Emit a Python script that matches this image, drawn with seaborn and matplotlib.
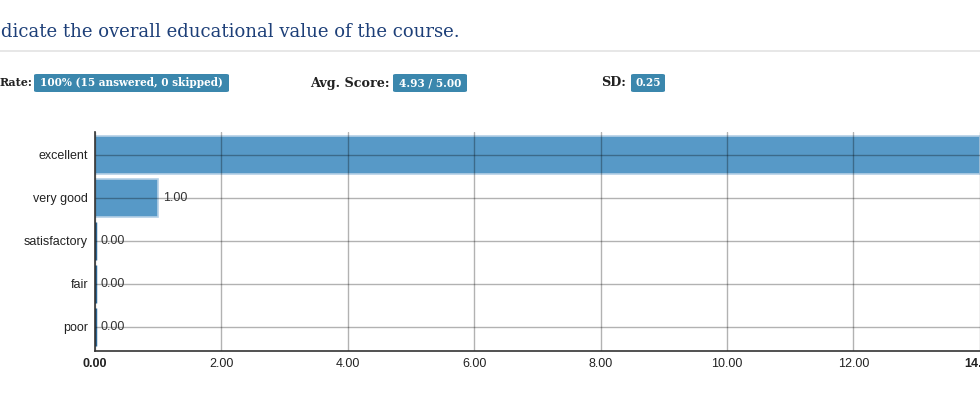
import matplotlib
matplotlib.use("Agg")
import pandas as pd
import seaborn as sns
import matplotlib.pyplot as plt
from matplotlib.patches import FancyBboxPatch

# data (the page is cut off at both sides)
ratings = ["excellent", "very good", "satisfactory", "fair", "poor"]
counts = [14, 1, 0, 0, 0]
x_ticks = [0, 2, 4, 6, 8, 10, 12, 14]

question = "dicate the overall educational value of the course."
rate_label = "Rate:"
rate_value = "100% (15 answered, 0 skipped)"
score_label = "Avg. Score:"
score_value = "4.93 / 5.00"
sd_label = "SD:"
sd_value = "0.25"

sns.set_style("white")
plt.rcParams["font.family"] = ["Liberation Sans", "DejaVu Sans"]

W, H = 980, 415
fig = plt.figure(figsize=(W / 100, H / 100), dpi=100)


def fx(px):
    return px / W


def fy(py):
    return 1 - py / H


# header
fig.text(fx(1), fy(32), question, ha="left", va="center",
         family="DejaVu Serif", fontsize=13, color="#1d3f78")
fig.add_artist(plt.Line2D([0, 1], [fy(51), fy(51)], color="#e3e3e3", lw=1.2))

badge_color = "#3b87ad"


def stat(label, label_left, value, box_left, box_right, size=9.2):
    fig.text(fx(label_left), fy(83), label, ha="left", va="center",
             family="DejaVu Serif", fontweight="bold", fontsize=size, color="#222222")
    box = FancyBboxPatch((fx(box_left), fy(92)), fx(box_right - box_left), (18 / H),
                         boxstyle="round,pad=0,rounding_size=0.003",
                         transform=fig.transFigure, facecolor=badge_color,
                         edgecolor="none")
    fig.add_artist(box)
    fig.text(fx((box_left + box_right) / 2), fy(83), value, ha="center", va="center",
             family="DejaVu Serif", fontweight="bold", fontsize=7.6, color="white")


stat(rate_label, 0, rate_value, 34, 229, size=8.0)
stat(score_label, 310, score_value, 393, 467)
stat(sd_label, 601, sd_value, 631, 665)

# chart: 0 sits at x=95 px, about 63.2 px per unit
df = pd.DataFrame({"rating": ratings, "count": counts})
ax = fig.add_axes([fx(95), fy(351), fx(15 * 63.2), (351 - 132) / H])
sns.barplot(data=df, x="count", y="rating", orient="h", ax=ax, width=0.9,
            color="#5799c7", saturation=1, edgecolor="#b4d0e6", linewidth=1.2, zorder=2)

ax.set_xlim(0, 15)
ax.set_ylim(4.56, -0.535)

# value labels, only where they land inside the visible page
for p, v in zip(ax.patches, counts):
    if v == 0:
        p.set_edgecolor("#2d6a9a")
        p.set_linewidth(2.5)
    if v + 0.08 < 13.5:
        ax.text(v + 0.08, p.get_y() + p.get_height() / 2, f"{v:.2f}",
                va="center", ha="left", fontsize=9, color="#333333", zorder=4)

ax.set_xticks(x_ticks)
ax.set_xticklabels([f"{t:.2f}" for t in x_ticks])
for i, lab in enumerate(ax.get_xticklabels()):
    if i in (0, len(x_ticks) - 1):
        lab.set_fontweight("bold")
ax.tick_params(axis="both", length=0, labelsize=9, colors="#222222")
ax.tick_params(axis="x", pad=5)
ax.tick_params(axis="y", pad=5)
ax.grid(True, color="black", alpha=0.3, lw=1, zorder=3)
ax.set_axisbelow(False)
ax.set_xlabel("")
ax.set_ylabel("")
sns.despine(ax=ax)
for s in ("left", "bottom"):
    ax.spines[s].set_color("#333333")
    ax.spines[s].set_linewidth(1.2)
    ax.spines[s].set_zorder(5)

fig.savefig("out.png", dpi=100)
